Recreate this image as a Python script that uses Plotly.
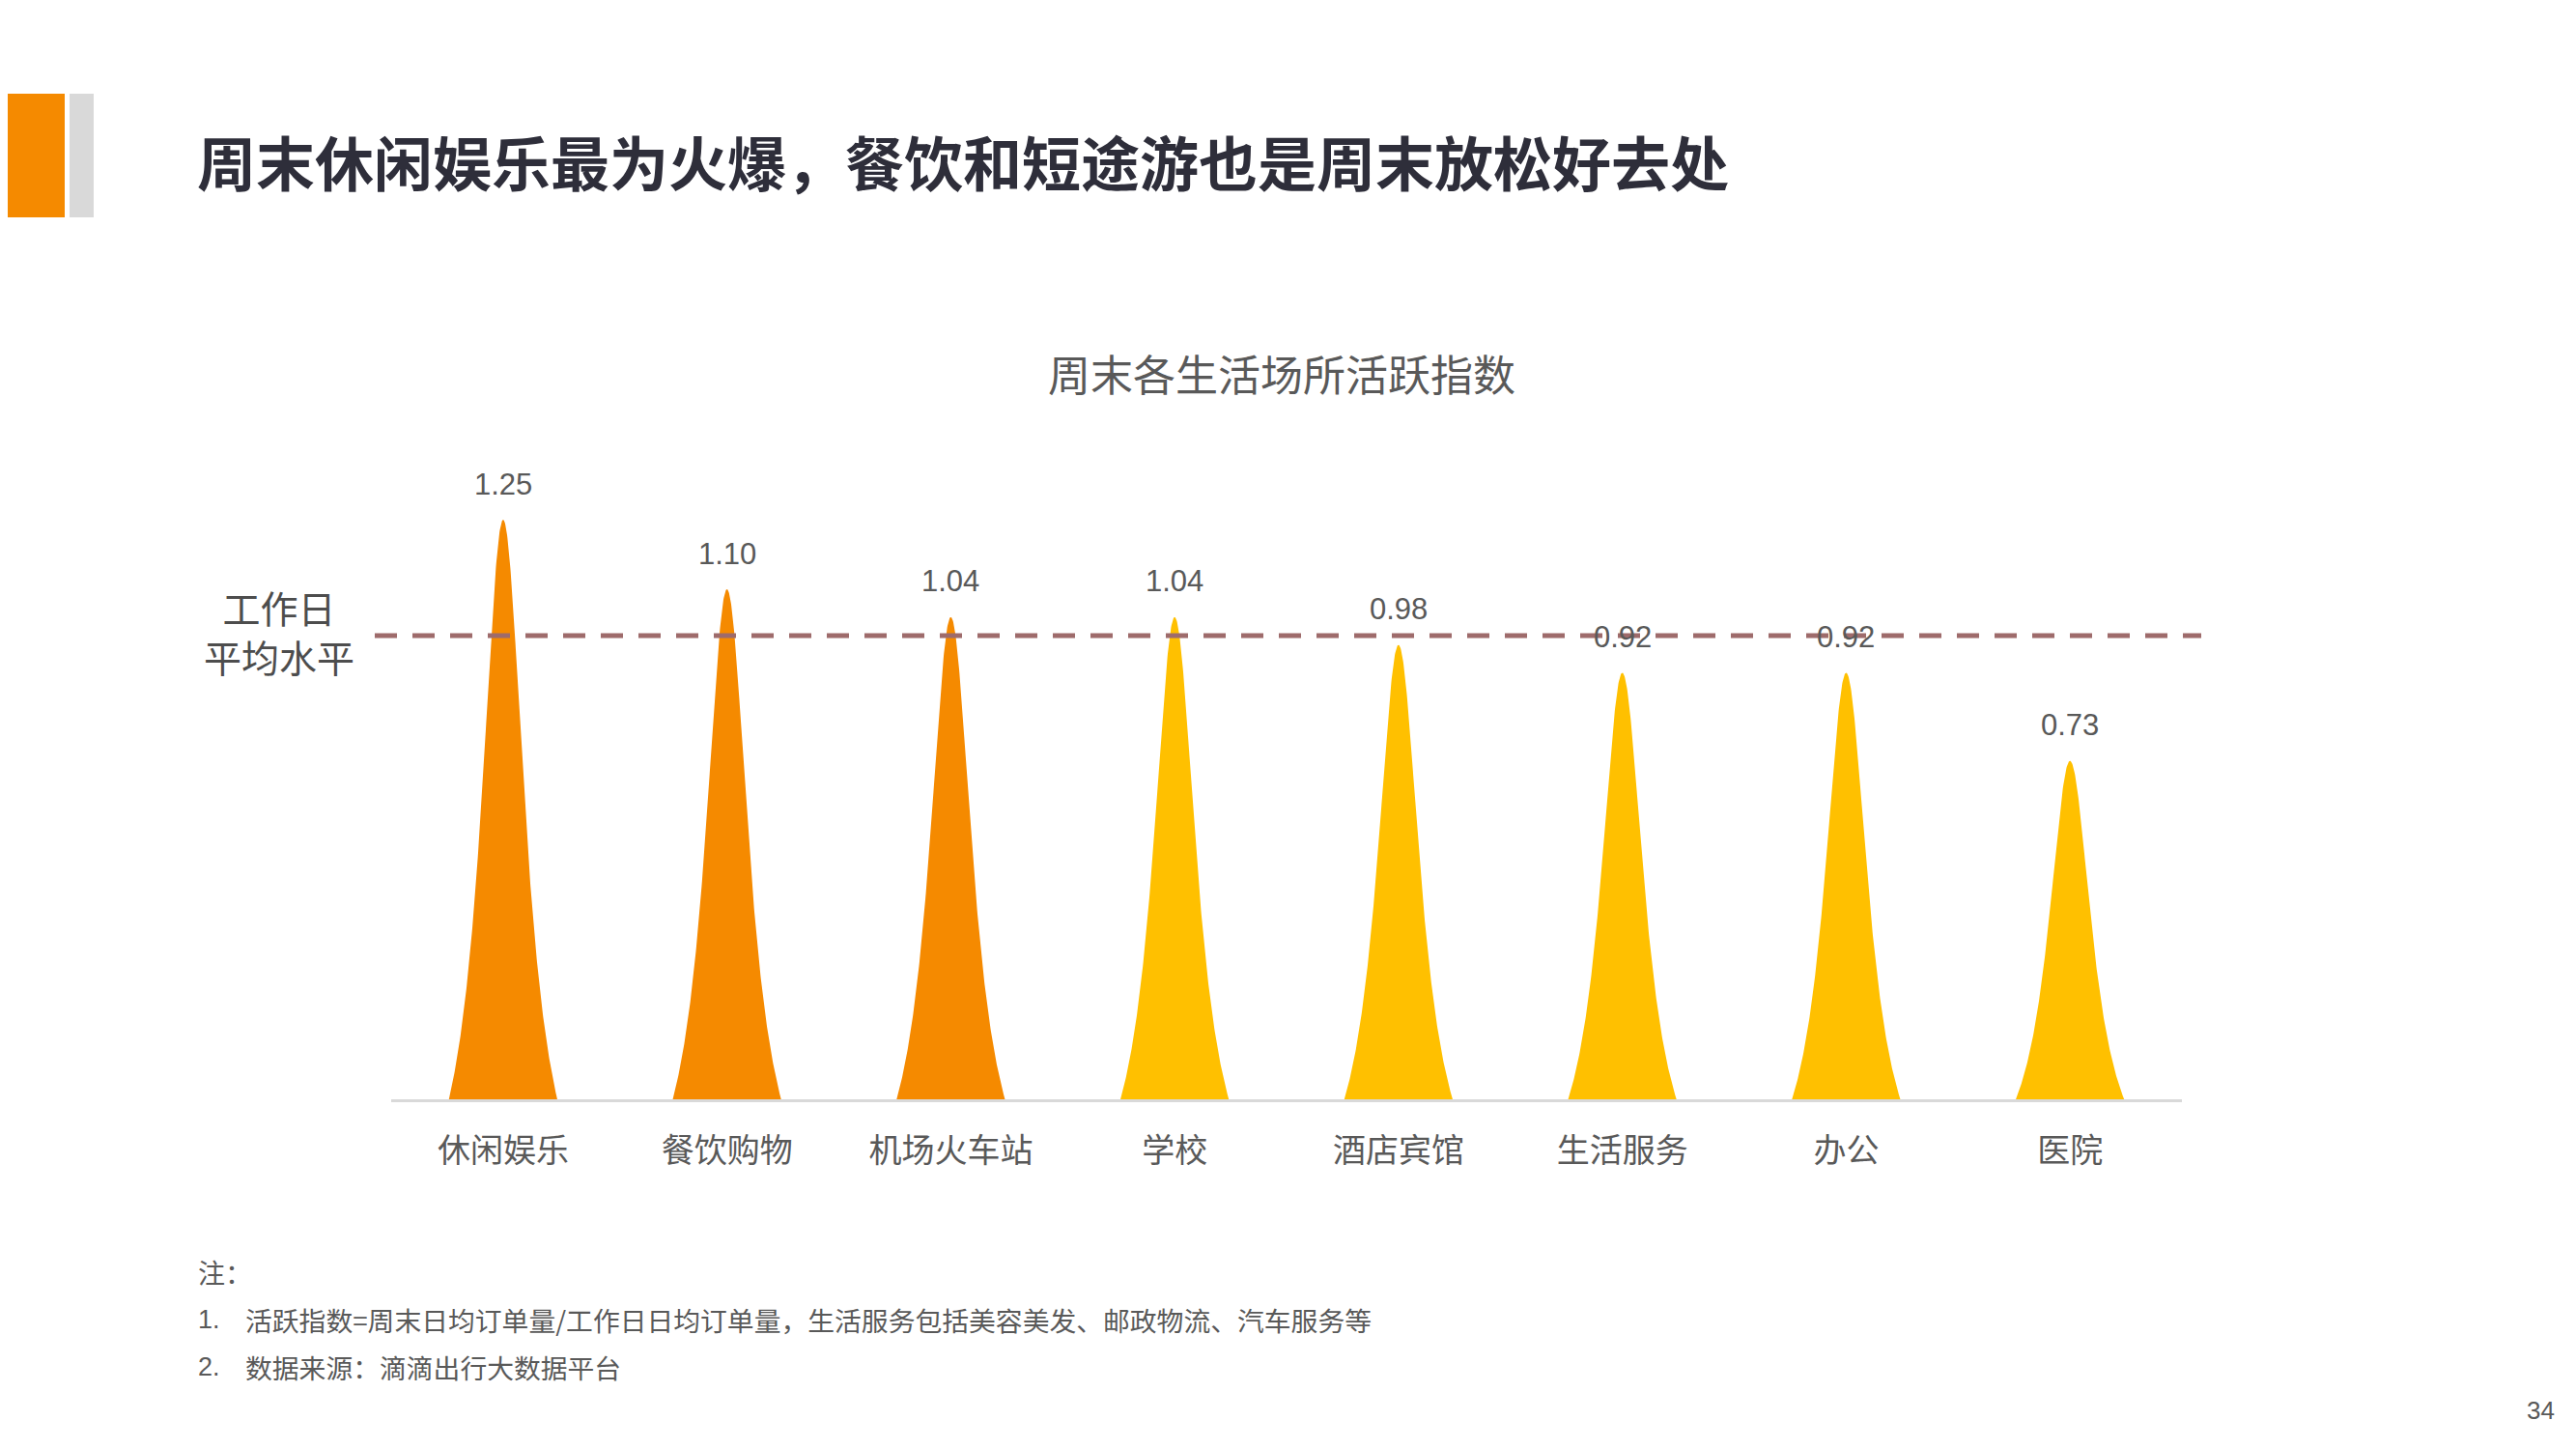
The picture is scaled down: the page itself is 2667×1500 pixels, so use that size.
"""
周末各生活场所活跃指数 — spike-shaped bar chart
"""

import numpy as np
import plotly.graph_objects as go


categories = ["休闲娱乐", "餐饮购物", "机场火车站", "学校", "酒店宾馆", "生活服务", "办公", "医院"]
values = [1.25, 1.10, 1.04, 1.04, 0.98, 0.92, 0.92, 0.73]
weekday_level = 1.0

title = "周末休闲娱乐最为火爆，餐饮和短途游也是周末放松好去处"
chart_title = "周末各生活场所活跃指数"
notes = [
    ("1.", "活跃指数=周末日均订单量/工作日日均订单量，生活服务包括美容美发、邮政物流、汽车服务等"),
    ("2.", "数据来源：滴滴出行大数据平台"),
]

ORANGE = "#F58A00"
YELLOW = "#FFC000"
GREY_TXT = "#595959"
CJK = "Noto Sans CJK SC"
LATIN = "Liberation Sans, Noto Sans CJK SC"

# page is offset by the default body margin, so draw on a slightly smaller canvas
OFF = 8
W, H = 2667 - OFF, 1500 - OFF
# plot area in page pixels
L, R, T, B = 405, 2259, 466, 1138
Y_MAX = 1.4

# spike profile: normalised Lorentzian, half-width in category units
HALF_W = 0.242
SHARP = 0.5


def px(x):
    return (x - L) / (R - L)


def py(y):
    return (B - y) / (B - T)


def spike(center, value):
    t = np.linspace(-1, 1, 301)
    lor = 1 / (1 + (t / SHARP) ** 2)
    edge = 1 / (1 + (1 / SHARP) ** 2)
    h = (lor - edge) / (1 - edge)
    return center + t * HALF_W, value * h


fig = go.Figure()

for i, (cat, v) in enumerate(zip(categories, values)):
    xs, ys = spike(i, v)
    fig.add_trace(go.Scatter(
        x=xs, y=ys, mode="lines", fill="toself",
        fillcolor=ORANGE if i < 3 else YELLOW,
        line=dict(width=0), hoverinfo="skip", name=cat,
    ))
    fig.add_annotation(
        x=i, y=v, text=f"{v:.2f}", showarrow=False,
        yanchor="middle", yshift=37,
        font=dict(family=LATIN, size=31, color=GREY_TXT),
    )

# weekday average reference line
fig.add_shape(
    type="line", xref="paper", yref="y",
    x0=px(388), x1=px(2279), y0=weekday_level, y1=weekday_level,
    line=dict(color="#9E6B6B", width=5, dash="23px,16px"),
)
fig.add_annotation(
    xref="paper", yref="paper", x=px(289), y=py(653),
    text="工作日<br>平均水平", showarrow=False, align="center",
    xanchor="center", yanchor="middle",
    font=dict(family=CJK, size=39, color="#4D4D4D"),
)

# page decoration
fig.add_shape(type="rect", xref="paper", yref="paper",
              x0=px(OFF - 20), x1=px(67), y0=py(97), y1=py(225),
              fillcolor=ORANGE, line=dict(width=0))
fig.add_shape(type="rect", xref="paper", yref="paper",
              x0=px(72), x1=px(97), y0=py(97), y1=py(225),
              fillcolor="#D9D9D9", line=dict(width=0))

fig.add_annotation(
    xref="paper", yref="paper", x=px(202), y=py(167),
    text=title, showarrow=False, xanchor="left", yanchor="middle",
    font=dict(family=CJK, size=61, color="#2E2E3A", weight=700),
)
fig.add_annotation(
    xref="paper", yref="paper", x=px(1327), y=py(386),
    text=chart_title, showarrow=False, xanchor="center", yanchor="middle",
    font=dict(family=CJK, size=44, color=GREY_TXT),
)

# notes
fig.add_annotation(
    xref="paper", yref="paper", x=px(203), y=py(1317),
    text="注：", showarrow=False, xanchor="left", yanchor="middle",
    font=dict(family=CJK, size=28, color=GREY_TXT),
)
for k, (num, txt) in enumerate(notes):
    yy = py(1366 + 49 * k)
    fig.add_annotation(
        xref="paper", yref="paper", x=px(203), y=yy,
        text=num, showarrow=False, xanchor="left", yanchor="middle",
        font=dict(family=LATIN, size=27, color=GREY_TXT),
    )
    fig.add_annotation(
        xref="paper", yref="paper", x=px(252), y=yy,
        text=txt, showarrow=False, xanchor="left", yanchor="middle",
        font=dict(family=CJK, size=27.8, color=GREY_TXT),
    )

fig.add_annotation(
    xref="paper", yref="paper", x=px(2630), y=py(1460),
    text="34", showarrow=False, xanchor="center", yanchor="middle",
    font=dict(family=LATIN, size=26, color=GREY_TXT),
)

fig.update_xaxes(
    range=[-0.5, len(categories) - 0.5],
    tickvals=list(range(len(categories))), ticktext=categories,
    showgrid=False, zeroline=False, showline=True,
    linecolor="#D9D9D9", linewidth=3, ticks="", ticklabelstandoff=21,
    tickfont=dict(family=CJK, size=34, color=GREY_TXT),
    fixedrange=True,
)
fig.update_yaxes(
    range=[0, Y_MAX], visible=False, showgrid=False, zeroline=False,
    fixedrange=True,
)
fig.update_layout(
    width=W, height=H, showlegend=False,
    margin=dict(l=L - OFF, r=W - (R - OFF), t=T - OFF, b=H - (B - OFF)),
    paper_bgcolor="white", plot_bgcolor="white",
)

fig.write_html("out.html")
